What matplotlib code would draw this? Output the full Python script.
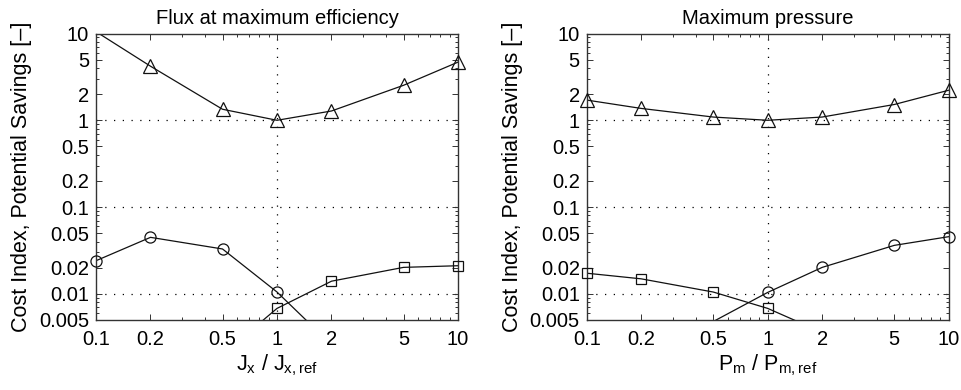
#!/usr/bin/env python3

import numpy as np
import matplotlib
matplotlib.use('Agg')
import matplotlib.pyplot as plt
from matplotlib.ticker import FixedLocator, LogLocator, NullFormatter

plt.rcParams['font.family'] = ['Liberation Sans', 'DejaVu Sans']
plt.rcParams['mathtext.default'] = 'regular'

# ---- data ----
ratio = [0.1, 0.2, 0.5, 1, 2, 5, 10]

# left panel: flux at maximum efficiency
flux_triangle = [10.5, 4.2, 1.34, 1.0, 1.28, 2.53, 4.68]
flux_circle_x = [0.1, 0.2, 0.5, 1, 2]
flux_circle = [0.0241, 0.0448, 0.0329, 0.0105, 0.0026]
flux_square_x = [0.5, 1, 2, 5, 10]
flux_square = [0.0020, 0.0068, 0.0140, 0.0202, 0.0211]

# right panel: maximum pressure
pres_triangle = [1.71, 1.37, 1.09, 1.0, 1.09, 1.52, 2.22]
pres_circle_x = [0.5, 1, 2, 5, 10]
pres_circle = [0.0048, 0.0104, 0.0202, 0.0362, 0.0456]
pres_square_x = [0.1, 0.2, 0.5, 1, 2]
pres_square = [0.0173, 0.0149, 0.0105, 0.0068, 0.0036]

x_ticks = [0.1, 0.2, 0.5, 1, 2, 5, 10]
x_ticklabels = ['0.1', '0.2', '0.5', '1', '2', '5', '10']
y_ticks = [0.005, 0.01, 0.02, 0.05, 0.1, 0.2, 0.5, 1, 2, 5, 10]
y_ticklabels = ['0.005', '0.01', '0.02', '0.05', '0.1', '0.2', '0.5',
                '1', '2', '5', '10']

YMIN, YMAX = 0.005, 10
FS = 14.5


def plot_series(ax, x, y, marker, ms):
    x = np.asarray(x, dtype=float)
    y = np.asarray(y, dtype=float)
    ax.plot(x, y, '-', color='#111111', lw=0.9)
    inside = (y >= YMIN) & (y <= YMAX)
    ax.plot(x[inside], y[inside], linestyle='none', marker=marker, ms=ms,
            mfc='none', mec='#111111', mew=0.9, clip_on=False, zorder=5)


def style_axes(ax, title, xlabel):
    ax.set_xscale('log')
    ax.set_yscale('log')
    ax.set_xlim(0.1, 10)
    ax.set_ylim(YMIN, YMAX)
    ax.xaxis.set_major_locator(FixedLocator(x_ticks))
    ax.set_xticklabels(x_ticklabels)
    ax.yaxis.set_major_locator(FixedLocator(y_ticks))
    ax.set_yticklabels(y_ticklabels)
    ax.xaxis.set_minor_locator(LogLocator(base=10, subs=np.arange(2, 10)))
    ax.yaxis.set_minor_locator(LogLocator(base=10, subs=np.arange(2, 10)))
    ax.xaxis.set_minor_formatter(NullFormatter())
    ax.yaxis.set_minor_formatter(NullFormatter())
    ax.tick_params(which='both', direction='in', top=True, right=True,
                   labelsize=FS, width=0.7, color='#333333')
    ax.tick_params(axis='x', which='both', pad=7)
    ax.tick_params(axis='y', which='both', pad=5)
    ax.tick_params(which='major', length=4)
    ax.tick_params(which='minor', length=2)
    for s in ax.spines.values():
        s.set_linewidth(1.0)
        s.set_color('#333333')
    # dotted grid at decades only
    for yv in [0.01, 0.1, 1]:
        ax.axhline(yv, color='black', ls=(0, (1, 6)), lw=0.9, zorder=0)
    ax.axvline(1, color='black', ls=(0, (1, 6)), lw=0.9, zorder=0)
    ax.set_title(title, fontsize=FS, pad=7)
    ax.set_xlabel(xlabel, fontsize=FS + 1, labelpad=3)
    ax.set_ylabel('Cost Index, Potential Savings [–]', fontsize=FS + 1,
                  labelpad=5)


fig = plt.figure(figsize=(9.62, 3.9), dpi=100)
ax1 = fig.add_axes([0.0998, 0.1795, 0.3763, 0.7346])
ax2 = fig.add_axes([0.6099, 0.1795, 0.3763, 0.7346])

plot_series(ax1, ratio, flux_triangle, '^', 10)
plot_series(ax1, flux_circle_x, flux_circle, 'o', 8)
plot_series(ax1, flux_square_x, flux_square, 's', 7)
style_axes(ax1, 'Flux at maximum efficiency', 'J$_x$ / J$_{x,ref}$')

plot_series(ax2, ratio, pres_triangle, '^', 10)
plot_series(ax2, pres_circle_x, pres_circle, 'o', 8)
plot_series(ax2, pres_square_x, pres_square, 's', 7)
style_axes(ax2, 'Maximum pressure', 'P$_m$ / P$_{m,ref}$')

fig.savefig('out.png', dpi=100)
